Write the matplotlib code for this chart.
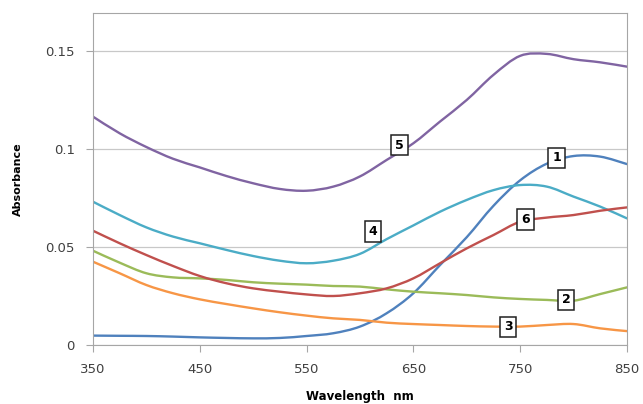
import matplotlib
matplotlib.use('Agg')
import matplotlib.pyplot as plt
from matplotlib.path import Path
from matplotlib.patches import PathPatch

# wavelengths (nm) every 25 nm
wavelength = [350, 375, 400, 425, 450, 475, 500, 525, 550, 575, 600,
              625, 650, 675, 700, 725, 750, 775, 800, 825, 850]

# absorbance
curve_1 = [0.0048, 0.0047, 0.0046, 0.0043, 0.0039, 0.0036, 0.0034, 0.0036, 0.0046, 0.0060, 0.0094,
           0.0162, 0.0264, 0.0408, 0.0550, 0.0710, 0.0840, 0.0925, 0.0964, 0.0961, 0.0923]
curve_2 = [0.0481, 0.0420, 0.0366, 0.0345, 0.0340, 0.0332, 0.0320, 0.0313, 0.0308, 0.0301, 0.0298,
           0.0284, 0.0272, 0.0264, 0.0255, 0.0243, 0.0235, 0.0230, 0.0226, 0.0260, 0.0294]
curve_3 = [0.0425, 0.0366, 0.0306, 0.0264, 0.0233, 0.0209, 0.0187, 0.0167, 0.0150, 0.0136, 0.0128,
           0.0114, 0.0107, 0.0102, 0.0097, 0.0094, 0.0094, 0.0102, 0.0107, 0.0085, 0.0071]
curve_4 = [0.0731, 0.0663, 0.0600, 0.0553, 0.0519, 0.0485, 0.0454, 0.0430, 0.0417, 0.0430, 0.0465,
           0.0540, 0.0610, 0.0680, 0.0740, 0.0790, 0.0816, 0.0808, 0.0757, 0.0706, 0.0646]
curve_5 = [0.1165, 0.1080, 0.1010, 0.0950, 0.0906, 0.0862, 0.0825, 0.0796, 0.0787, 0.0808, 0.0860,
           0.0944, 0.1029, 0.1140, 0.1250, 0.1378, 0.1475, 0.1485, 0.1458, 0.1442, 0.1420]
curve_6 = [0.0583, 0.0519, 0.0459, 0.0403, 0.0352, 0.0315, 0.0289, 0.0272, 0.0258, 0.0250, 0.0264,
           0.0289, 0.0340, 0.0417, 0.0493, 0.0561, 0.0629, 0.0650, 0.0663, 0.0685, 0.0702]

series = [curve_1, curve_2, curve_3, curve_4, curve_5, curve_6]
colors = ['#4F81BD', '#9BBB59', '#F79646', '#4BACC6', '#8064A2', '#C0504D']
names = ['1', '2', '3', '4', '5', '6']
# label box positions (nm, absorbance)
label_x = [784, 793, 739, 612, 637, 755]
label_y = [0.0954, 0.0230, 0.0092, 0.0580, 0.1020, 0.0640]


def smooth_path(xs, ys):
    # Excel-style smoothed line: Catmull-Rom segments as cubic Beziers
    pts = list(zip(xs, ys))
    verts = [pts[0]]
    codes = [Path.MOVETO]
    for i in range(len(pts) - 1):
        p0 = pts[i - 1] if i > 0 else pts[i]
        p1 = pts[i]
        p2 = pts[i + 1]
        p3 = pts[i + 2] if i + 2 < len(pts) else pts[i + 1]
        c1 = (p1[0] + (p2[0] - p0[0]) / 6, p1[1] + (p2[1] - p0[1]) / 6)
        c2 = (p2[0] - (p3[0] - p1[0]) / 6, p2[1] - (p3[1] - p1[1]) / 6)
        verts += [c1, c2, p2]
        codes += [Path.CURVE4] * 3
    return Path(verts, codes)


fig = plt.figure(figsize=(6.43, 4.04), dpi=100)
ax = fig.add_axes([0.1446, 0.146, 0.8304, 0.822])

for vals, c in zip(series, colors):
    ax.add_patch(PathPatch(smooth_path(wavelength, vals), fill=False,
                           ec=c, lw=1.7, capstyle='round', joinstyle='round'))

for n, lx, ly in zip(names, label_x, label_y):
    ax.text(lx, ly, n, fontsize=9, fontweight='bold', ha='center', va='center',
            bbox=dict(boxstyle='square,pad=0.3', fc='white', ec='#202020', lw=1.1))

ax.set_xlim(350, 850)
ax.set_ylim(0, 0.1694)
ax.set_xticks([350, 450, 550, 650, 750, 850])
ax.set_yticks([0, 0.05, 0.1, 0.15])
ax.set_yticklabels(['0', '0.05', '0.1', '0.15'])
ax.grid(axis='y', color='#c8c8c8', lw=0.9)
ax.set_axisbelow(True)
for s in ax.spines.values():
    s.set_color('#a6a6a6')
ax.tick_params(colors='#a6a6a6', labelcolor='#404040', labelsize=9.5, length=5, pad=8)

ax.set_xlabel('Wavelength  nm', fontsize=8.5, fontweight='bold', labelpad=10)
ax.set_ylabel('Absorbance', fontsize=8, fontweight='bold', labelpad=16)

fig.savefig('out.png', dpi=100)
